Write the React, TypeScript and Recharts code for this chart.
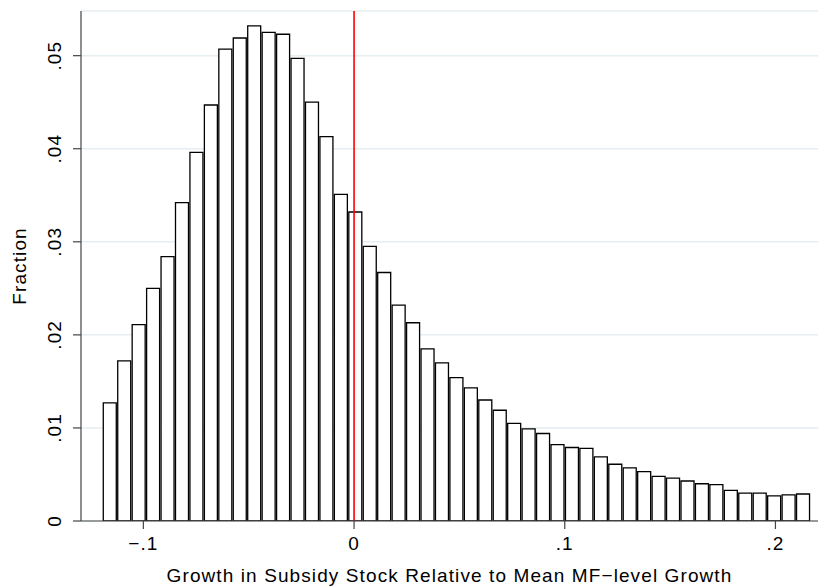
import React from "react";
import {
  Bar,
  CartesianGrid,
  ComposedChart,
  Label,
  ReferenceLine,
  XAxis,
  YAxis,
} from "recharts";

// histogram of growth in subsidy stock, 49 equal-width bins
const binStart = -0.1195;
const binWidth = 0.006855;
const fractions = [
  0.0127, 0.0172, 0.0211, 0.025, 0.0284, 0.0342, 0.0396, 0.0447, 0.0507, 0.0519,
  0.0532, 0.0525, 0.0523, 0.0497, 0.045, 0.0413, 0.0351, 0.0332, 0.0295, 0.0267,
  0.0232, 0.0213, 0.0185, 0.017, 0.0154, 0.0143, 0.013, 0.0119, 0.0105, 0.0099,
  0.0094, 0.0082, 0.0079, 0.0078, 0.0069, 0.0061, 0.0057, 0.0053, 0.0048, 0.0046,
  0.0043, 0.004, 0.0039, 0.0033, 0.003, 0.003, 0.0027, 0.0028, 0.0029,
];
const xTicks = [-0.1, 0, 0.1, 0.2];
const yTicks = [0, 0.01, 0.02, 0.03, 0.04, 0.05];
const xDomain = [-0.1296, 0.2202];
const yDomain = [0, 0.0548];

const data = fractions.map((f, i) => ({ bin: binStart + (i + 0.5) * binWidth, fraction: f }));

const W = 820;
const H = 588;
const M = { top: 11, right: 2, bottom: 0, left: 0 };
const Y_W = 81;
const X_H = 67;
const plotW = W - M.left - M.right - Y_W;
const barPx = (binWidth / (xDomain[1] - xDomain[0])) * plotW;

const FONT = "'Liberation Sans', Arial, sans-serif";
const textStyle = { fontSize: 19, fontFamily: FONT, letterSpacing: 1.1, fill: "#000" };

const fmt = (v: number) => {
  if (v === 0) return "0";
  const s = String(Math.abs(v)).replace(/^0/, "");
  return (v < 0 ? "\u2212" : "") + s;
};

const YTick = (props: any) => {
  const { x, y, payload } = props;
  return (
    <text
      transform={`translate(${x - 17},${y}) rotate(-90)`}
      textAnchor="middle"
      dominantBaseline="central"
      style={textStyle}
    >
      {fmt(payload.value)}
    </text>
  );
};

const XTick = (props: any) => {
  const { x, y, payload } = props;
  return (
    <text x={x} y={y + 19} textAnchor="middle" style={textStyle}>
      {fmt(payload.value)}
    </text>
  );
};

export default function App() {
  return (
    <div style={{ position: "absolute", left: 0, top: 0, background: "#fff" }}>
      <ComposedChart width={W} height={H} data={data} margin={M}>
        <CartesianGrid vertical={false} stroke="#e6eef1" strokeWidth={1.5} />
        <XAxis
          dataKey="bin"
          type="number"
          domain={xDomain}
          ticks={xTicks}
          allowDataOverflow
          height={X_H}
          tickSize={8}
          tick={<XTick />}
          stroke="#444"
          strokeWidth={1.2}
        >
          <Label
            content={(p: any) => (
              <text
                x={p.viewBox.x + p.viewBox.width / 2}
                y={582}
                textAnchor="middle"
                style={textStyle}
              >
                Growth in Subsidy Stock Relative to Mean MF{"\u2212"}level Growth
              </text>
            )}
          />
        </XAxis>
        <YAxis
          type="number"
          domain={yDomain}
          ticks={yTicks}
          allowDataOverflow
          width={Y_W}
          tickSize={8}
          tick={<YTick />}
          stroke="#444"
          strokeWidth={1.2}
        >
          <Label
            content={(p: any) => (
              <text
                transform={`translate(${19},${p.viewBox.y + p.viewBox.height / 2}) rotate(-90)`}
                textAnchor="middle"
                dominantBaseline="central"
                style={textStyle}
              >
                Fraction
              </text>
            )}
          />
        </YAxis>
        <Bar
          dataKey="fraction"
          barSize={barPx}
          fill="#fff"
          stroke="#000"
          strokeWidth={1.3}
          isAnimationActive={false}
        />
        <ReferenceLine x={0} stroke="#ff0000" strokeWidth={1.6} />
      </ComposedChart>
    </div>
  );
}
